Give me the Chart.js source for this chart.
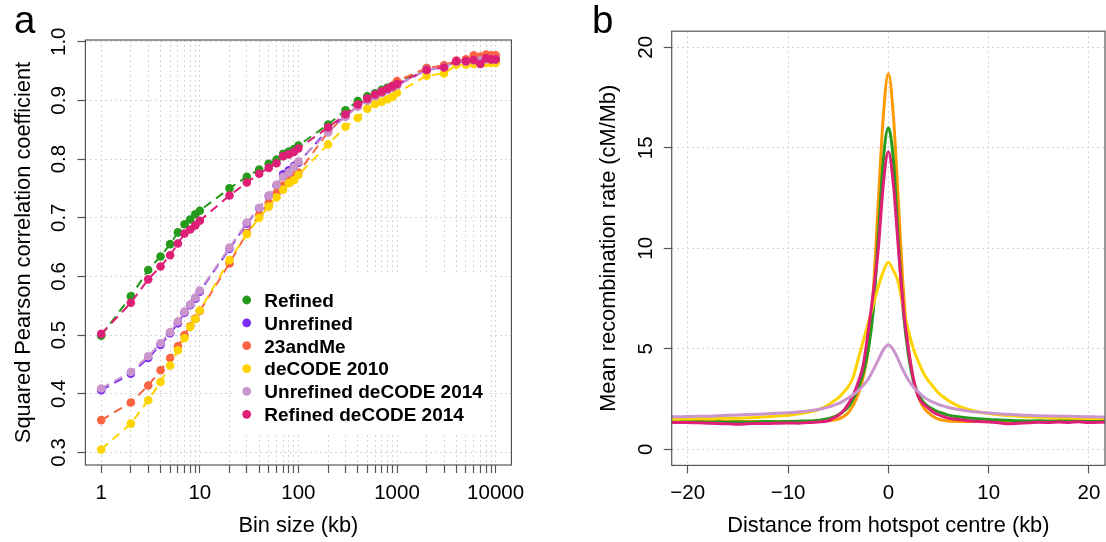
<!DOCTYPE html>
<html>
<head>
<meta charset="utf-8">
<script src="https://cdn.jsdelivr.net/npm/chart.js@4.4.1/dist/chart.umd.min.js"></script>
<style>
  html, body { margin: 0; padding: 0; background: #fff; }
  #wrap { position: relative; width: 1106px; height: 542px; overflow: hidden; }
  #chartA { position: absolute; left: 0; top: 0; }
  #chartB { position: absolute; left: 560px; top: 0; }
</style>
</head>
<body>
<div id="wrap">
  <canvas id="chartA" width="560" height="542"></canvas>
  <canvas id="chartB" width="546" height="542"></canvas>
</div>
<script>
const FONT = '"Liberation Sans", Arial, Helvetica, sans-serif';

// ---- panel a: correlation vs bin size ----
const binSizes = [1, 2, 3, 4, 5, 6, 7, 8, 9, 10, 20, 30, 40, 50, 60, 70, 80, 90, 100,
  200, 300, 400, 500, 600, 700, 800, 900, 1000, 2000, 3000, 4000, 5000, 6000, 7000, 8000, 9000, 10000];
const binTickLabels = ['1', '10', '100', '1000', '10000'];
const corrTicks = [0.3, 0.4, 0.5, 0.6, 0.7, 0.8, 0.9, 1.0];

const refined = [0.499, 0.566, 0.611, 0.634, 0.655, 0.675, 0.689, 0.697, 0.706, 0.712,
  0.750, 0.770, 0.782, 0.792, 0.799, 0.809, 0.813, 0.817, 0.823,
  0.859, 0.883, 0.899, 0.907, 0.912, 0.918, 0.922, 0.925, 0.930,
  0.955, 0.959, 0.966, 0.968, 0.970, 0.970, 0.971, 0.971, 0.971];
const unrefined = [0.406, 0.434, 0.461, 0.483, 0.503, 0.520, 0.538, 0.551, 0.562, 0.574,
  0.647, 0.690, 0.716, 0.737, 0.755, 0.774, 0.781, 0.788, 0.794,
  0.850, 0.873, 0.890, 0.900, 0.907, 0.913, 0.918, 0.922, 0.926,
  0.952, 0.957, 0.966, 0.966, 0.968, 0.968, 0.970, 0.970, 0.970];
const andMe23 = [0.355, 0.385, 0.414, 0.440, 0.461, 0.481, 0.500, 0.515, 0.528, 0.541,
  0.622, 0.674, 0.705, 0.725, 0.742, 0.755, 0.766, 0.771, 0.777,
  0.846, 0.874, 0.892, 0.902, 0.909, 0.915, 0.920, 0.925, 0.933,
  0.955, 0.960, 0.968, 0.970, 0.977, 0.975, 0.978, 0.977, 0.977];
const decode2010 = [0.305, 0.349, 0.389, 0.420, 0.448, 0.474, 0.495, 0.514, 0.527, 0.542,
  0.628, 0.672, 0.700, 0.719, 0.735, 0.748, 0.759, 0.764, 0.773,
  0.825, 0.855, 0.870, 0.886, 0.894, 0.898, 0.902, 0.906, 0.913,
  0.942, 0.946, 0.961, 0.961, 0.962, 0.963, 0.964, 0.964, 0.964];
const unrefinedDecode2014 = [0.409, 0.437, 0.464, 0.486, 0.505, 0.523, 0.540, 0.552, 0.564, 0.576,
  0.649, 0.692, 0.717, 0.738, 0.756, 0.770, 0.777, 0.786, 0.796,
  0.846, 0.872, 0.890, 0.900, 0.907, 0.913, 0.918, 0.922, 0.926,
  0.952, 0.957, 0.966, 0.966, 0.968, 0.968, 0.970, 0.970, 0.970];
const refinedDecode2014 = [0.502, 0.555, 0.595, 0.617, 0.636, 0.656, 0.673, 0.680, 0.687, 0.695,
  0.738, 0.760, 0.775, 0.785, 0.793, 0.805, 0.808, 0.812, 0.818,
  0.854, 0.876, 0.893, 0.903, 0.910, 0.915, 0.920, 0.924, 0.928,
  0.952, 0.956, 0.967, 0.967, 0.969, 0.962, 0.972, 0.970, 0.970];

const seriesA = [
  { label: 'Refined', data: refined, color: '#259a1c' },
  { label: 'Unrefined', data: unrefined, color: '#7a2cf5' },
  { label: '23andMe', data: andMe23, color: '#fa6443' },
  { label: 'deCODE 2010', data: decode2010, color: '#ffd300' },
  { label: 'Unrefined deCODE 2014', data: unrefinedDecode2014, color: '#c995cc' },
  { label: 'Refined deCODE 2014', data: refinedDecode2014, color: '#de1f78' }
];

// ---- panel b: recombination rate around hotspots ----
const distKb = [-22, -21, -20, -19, -18, -17, -16, -15, -14, -13, -12, -11, -10, -9, -8, -7, -6,
  -5.5, -5, -4.5, -4, -3.5, -3, -2.5, -2, -1.5, -1, -0.5, 0, 0.5, 1, 1.5, 2, 2.5, 3, 3.5, 4, 4.5, 5, 5.5,
  6, 7, 8, 9, 10, 11, 12, 13, 14, 15, 16, 17, 18, 19, 20, 21, 22];
const distTicks = [-20, -10, 0, 10, 20];
const rateTicks = [0, 5, 10, 15, 20];

const rateOrange = [1.42, 1.43, 1.42, 1.41, 1.40, 1.41, 1.39, 1.39, 1.38, 1.39, 1.38, 1.38, 1.38, 1.39, 1.39, 1.40, 1.42,
  1.45, 1.50, 1.62, 1.82, 2.20, 2.75, 3.60, 5.00, 7.90, 12.3, 16.6, 18.7, 16.6, 12.3, 7.90, 5.00, 3.50, 2.60, 2.10, 1.82, 1.62, 1.50, 1.44,
  1.41, 1.39, 1.38, 1.38, 1.38, 1.39, 1.38, 1.39, 1.40, 1.40, 1.41, 1.41, 1.42, 1.42, 1.43, 1.43, 1.44];
const rateGreen = [1.40, 1.41, 1.39, 1.38, 1.36, 1.37, 1.35, 1.36, 1.35, 1.37, 1.38, 1.37, 1.39, 1.40, 1.41, 1.44, 1.52,
  1.60, 1.72, 1.88, 2.10, 2.50, 3.05, 3.80, 4.95, 6.90, 10.6, 14.4, 16.0, 14.4, 10.4, 6.80, 4.70, 3.40, 2.75, 2.35, 2.12, 1.98, 1.86, 1.78,
  1.70, 1.62, 1.56, 1.52, 1.48, 1.46, 1.44, 1.42, 1.41, 1.42, 1.40, 1.42, 1.43, 1.44, 1.45, 1.46, 1.47];
const rateYellow = [1.50, 1.50, 1.51, 1.52, 1.52, 1.53, 1.54, 1.55, 1.57, 1.59, 1.62, 1.66, 1.70, 1.76, 1.84, 1.97, 2.20,
  2.38, 2.55, 2.82, 3.12, 3.60, 4.50, 5.40, 6.30, 7.20, 8.10, 8.85, 9.30, 8.90, 8.30, 7.00, 5.90, 5.00, 4.35, 3.80, 3.40, 3.10, 2.80, 2.60,
  2.42, 2.15, 1.98, 1.86, 1.78, 1.72, 1.68, 1.64, 1.62, 1.60, 1.58, 1.56, 1.55, 1.54, 1.53, 1.53, 1.53];
const ratePink = [1.33, 1.34, 1.33, 1.32, 1.30, 1.28, 1.27, 1.25, 1.27, 1.29, 1.28, 1.30, 1.31, 1.30, 1.33, 1.36, 1.42,
  1.55, 1.68, 1.90, 2.25, 2.70, 3.35, 4.20, 5.90, 7.80, 10.0, 13.2, 14.8, 13.2, 10.0, 7.00, 5.00, 3.50, 2.60, 2.25, 2.05, 1.85, 1.72, 1.62,
  1.55, 1.48, 1.42, 1.38, 1.36, 1.32, 1.27, 1.30, 1.32, 1.35, 1.33, 1.36, 1.34, 1.37, 1.33, 1.35, 1.34];
const rateLilac = [1.61, 1.62, 1.63, 1.64, 1.65, 1.67, 1.69, 1.71, 1.73, 1.75, 1.77, 1.79, 1.82, 1.86, 1.91, 1.98, 2.10,
  2.18, 2.27, 2.40, 2.55, 2.72, 2.92, 3.18, 3.50, 3.95, 4.45, 4.95, 5.20, 4.95, 4.45, 3.90, 3.45, 3.10, 2.85, 2.62, 2.45, 2.33, 2.23, 2.15,
  2.08, 1.98, 1.90, 1.85, 1.81, 1.77, 1.74, 1.71, 1.69, 1.67, 1.66, 1.65, 1.64, 1.63, 1.62, 1.61, 1.61];

const seriesB = [
  { label: '23andMe', data: rateOrange, color: '#ff9a00' },
  { label: 'Refined', data: rateGreen, color: '#259a1c' },
  { label: 'deCODE 2010', data: rateYellow, color: '#ffd300' },
  { label: 'Refined deCODE 2014', data: ratePink, color: '#de1f78' },
  { label: 'Unrefined deCODE 2014', data: rateLilac, color: '#c995cc' }
];

// R-like frame, tick labels, titles and panel letter
function rFrame(o) {
  return {
    id: 'rFrame',
    afterDraw(chart) {
      const { ctx, chartArea: a, scales: { x, y } } = chart;
      ctx.save();
      ctx.strokeStyle = '#555';
      ctx.lineWidth = 1.2;
      ctx.strokeRect(a.left, a.top, a.right - a.left, a.bottom - a.top);

      ctx.fillStyle = '#000';
      ctx.textAlign = 'center';
      ctx.textBaseline = 'alphabetic';
      ctx.font = `20.5px ${FONT}`;
      o.xLabels.forEach(([v, t]) => ctx.fillText(t, x.getPixelForValue(v), o.xLabelBase));
      o.yLabels.forEach(([v, t]) => {
        ctx.save();
        ctx.translate(o.yLabelBase, y.getPixelForValue(v));
        ctx.rotate(-Math.PI / 2);
        ctx.fillText(t, 0, 0);
        ctx.restore();
      });

      ctx.font = `21.8px ${FONT}`;
      ctx.fillText(o.xTitle, (a.left + a.right) / 2, o.xTitleBase);
      ctx.save();
      ctx.translate(o.yTitleBase, (a.top + a.bottom) / 2);
      ctx.rotate(-Math.PI / 2);
      ctx.fillText(o.yTitle, 0, 0);
      ctx.restore();

      ctx.font = `38.5px ${FONT}`;
      ctx.textAlign = 'left';
      ctx.fillText(o.letter, o.letterX, o.letterY);
      ctx.restore();
    }
  };
}

// legend inside panel a, white background, no border
const legendA = {
  id: 'legendA',
  afterDatasetsDraw(chart) {
    const ctx = chart.ctx;
    ctx.save();
    ctx.fillStyle = '#fff';
    ctx.fillRect(233, 272, 255, 163);
    ctx.font = `bold 19px ${FONT}`;
    ctx.textAlign = 'left';
    ctx.textBaseline = 'alphabetic';
    seriesA.forEach((s, i) => {
      const cy = 300 + i * 22.86;
      ctx.fillStyle = s.color;
      ctx.beginPath();
      ctx.arc(246.7, cy, 4.4, 0, Math.PI * 2);
      ctx.fill();
      ctx.fillStyle = '#000';
      ctx.fillText(s.label, 264.3, cy + 6.8);
    });
    ctx.restore();
  }
};

function axis(extra, ticks, fit) {
  return Object.assign({
    afterBuildTicks: s => { s.ticks = ticks.map(v => ({ value: v })); },
    afterFit: s => {
      fit(s);
      s.paddingLeft = s.paddingRight = s.paddingTop = s.paddingBottom = 0;
    },
    ticks: { display: false },
    grid: {
      display: true, drawOnChartArea: true, drawTicks: true, tickLength: 8,
      color: '#d4d4d4', lineWidth: 1, tickColor: '#555', tickWidth: 1.2,
      tickBorderDash: [], tickBorderDashOffset: 0
    },
    border: { display: false, dash: [2, 3] }
  }, extra);
}

new Chart(document.getElementById('chartA'), {
  type: 'line',
  data: {
    datasets: seriesA.map((s, i) => ({
      label: s.label,
      data: binSizes.map((b, j) => ({ x: b, y: s.data[j] })),
      borderColor: s.color,
      backgroundColor: s.color,
      borderWidth: 2,
      borderDash: [9, 6],
      pointRadius: 4.3,
      pointBorderWidth: 0,
      pointBackgroundColor: s.color,
      tension: 0,
      order: seriesA.length - 1 - i
    }))
  },
  options: {
    responsive: false,
    animation: false,
    layout: { padding: { top: 40, right: 48.6, bottom: 0, left: 0 } },
    plugins: { legend: { display: false }, tooltip: { enabled: false } },
    scales: {
      x: axis({ type: 'logarithmic', position: 'bottom', min: 0.6918, max: 14454 }, binSizes, s => { s.height = 77; }),
      y: axis({ type: 'linear', position: 'left', min: 0.2785, max: 1.003 }, corrTicks, s => { s.width = 85.4; })
    }
  },
  plugins: [legendA, rFrame({
    xLabels: binTickLabels.map(t => [Number(t), t]),
    yLabels: corrTicks.map(v => [v, v.toFixed(1)]),
    xLabelBase: 498.5, yLabelBase: 64.5,
    xTitle: 'Bin size (kb)', xTitleBase: 532,
    yTitle: 'Squared Pearson correlation coefficient', yTitleBase: 30,
    letter: 'a', letterX: 14, letterY: 33.3
  })]
});

new Chart(document.getElementById('chartB'), {
  type: 'line',
  data: {
    datasets: seriesB.map((s, i) => ({
      label: s.label,
      data: distKb.map((d, j) => ({ x: d, y: s.data[j] })),
      borderColor: s.color,
      borderWidth: 3,
      pointRadius: 0,
      cubicInterpolationMode: 'monotone',
      order: seriesB.length - 1 - i
    }))
  },
  options: {
    responsive: false,
    animation: false,
    layout: { padding: { top: 31.2, right: 1, bottom: 0, left: 0 } },
    plugins: { legend: { display: false }, tooltip: { enabled: false } },
    scales: {
      x: axis({ type: 'linear', position: 'bottom', min: -21.6, max: 21.6 }, distTicks, s => { s.height = 76.6; }),
      y: axis({ type: 'linear', position: 'left', min: -0.8, max: 20.8 }, rateTicks, s => { s.width = 111.7; })
    }
  },
  plugins: [rFrame({
    xLabels: distTicks.map(v => [v, v < 0 ? '\u2212' + Math.abs(v) : String(v)]),
    yLabels: rateTicks.map(v => [v, String(v)]),
    xLabelBase: 498.5, yLabelBase: 91.5,
    xTitle: 'Distance from hotspot centre (kb)', xTitleBase: 532,
    yTitle: 'Mean recombination rate (cM/Mb)', yTitleBase: 55,
    letter: 'b', letterX: 32, letterY: 33
  })]
});
</script>
</body>
</html>
